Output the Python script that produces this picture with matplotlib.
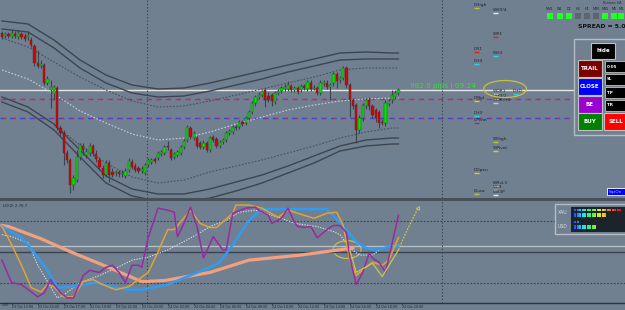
import matplotlib
matplotlib.use("Agg")
import matplotlib.pyplot as plt
from matplotlib.patches import Ellipse, Rectangle
import numpy as np

BG = "#708090"

# ---- M15 candles (price in points) ----
opens = [167, 164, 166, 163, 166, 163, 166, 164, 163, 160,
         154, 137, 134, 135, 117, 110, 106, 112, 72, 67,
         47, 40, 15, 20, 43, 54, 45, 47, 54, 46,
         40, 32, 25, 37, 28, 27, 28, 26, 24, 30,
         38, 34, 32, 29, 27, 35, 38, 41, 42, 46,
         47, 54, 50, 43, 45, 47, 53, 60, 72, 62,
         62, 57, 53, 57, 50, 63, 61, 54, 58, 60,
         67, 68, 73, 73, 78, 77, 82, 88, 97, 103,
         105, 110, 104, 105, 98, 107, 109, 111, 111, 114,
         110, 112, 110, 114, 111, 117, 111, 112, 107, 116,
         117, 113, 117, 126, 120, 122, 132, 115, 100, 95,
         70, 82, 94, 100, 94, 90, 88, 78, 77, 96,
         100, 103, 107]
closes = [163, 166, 164, 167, 164, 167, 163, 161, 165, 155,
          137, 134, 136, 117, 121, 113, 113, 72, 67, 47,
          40, 15, 22, 43, 55, 50, 48, 54, 47, 41,
          33, 25, 37, 25, 25, 28, 26, 27, 29, 39,
          33, 30, 29, 31, 35, 40, 40, 39, 47, 48,
          53, 53, 42, 46, 48, 53, 59, 73, 63, 67,
          54, 53, 57, 50, 62, 60, 54, 58, 60, 67,
          69, 73, 72, 78, 76, 82, 88, 97, 103, 105,
          109, 100, 100, 99, 107, 109, 112, 113, 115, 110,
          112, 108, 114, 112, 118, 111, 112, 107, 117, 118,
          113, 115, 126, 119, 122, 132, 115, 100, 94, 70,
          82, 95, 100, 94, 85, 82, 77, 77, 97, 99,
          105, 107, 110]
highs = [169, 168, 168, 170, 169, 170, 168, 167, 169, 163,
         156, 150, 140, 137, 124, 120, 115, 114, 75, 70,
         50, 42, 25, 50, 57, 57, 52, 57, 56, 50,
         43, 35, 40, 40, 32, 30, 30, 30, 32, 42,
         41, 37, 34, 34, 37, 42, 42, 43, 49, 50,
         55, 59, 52, 48, 50, 55, 61, 75, 74, 69,
         64, 59, 60, 59, 64, 65, 63, 60, 62, 69,
         71, 75, 75, 80, 80, 84, 90, 99, 105, 108,
         110, 112, 108, 107, 109, 111, 114, 116, 119, 116,
         114, 114, 116, 116, 120, 120, 115, 114, 120, 120,
         120, 117, 128, 128, 124, 134, 134, 117, 102, 97,
         85, 97, 102, 103, 96, 92, 90, 81, 100, 101,
         110, 110, 112]
lows = [161, 162, 162, 162, 162, 161, 161, 159, 160, 153,
        134, 132, 132, 115, 115, 92, 100, 70, 64, 35,
        37, 7, 10, 18, 40, 45, 42, 44, 44, 38,
        30, 22, 23, 18, 23, 24, 23, 23, 22, 28,
        31, 28, 27, 27, 25, 33, 36, 37, 40, 44,
        45, 50, 40, 41, 43, 45, 51, 58, 61, 60,
        52, 51, 51, 48, 48, 58, 52, 52, 56, 58,
        65, 66, 70, 71, 74, 75, 80, 86, 94, 101,
        103, 93, 98, 94, 96, 105, 107, 109, 109, 108,
        108, 106, 108, 110, 109, 109, 110, 105, 105, 114,
        111, 100, 114, 112, 117, 120, 112, 83, 91, 57,
        67, 79, 91, 90, 82, 78, 72, 75, 74, 94,
        97, 101, 105]

# ---- envelope bands (sampled every 8 bars) ----
band_idx = [0, 8, 16, 24, 32, 40, 48, 56, 64, 72, 80, 88, 96, 104, 112, 120, 122]
upper_1 = [179, 176, 160, 140, 125, 115, 111, 112, 117, 123, 129, 135, 141, 147, 148, 147, 147]
upper_2 = [171, 168, 152, 132, 117, 107, 103, 104, 109, 115, 121, 128, 134, 140, 141, 141, 141]
upper_mid = [162, 153, 138, 123, 110, 99, 93, 94, 99, 105, 111, 117, 123, 130, 132, 132, 132]
center = [130, 121, 106, 89, 77, 66, 60, 62, 68, 76, 83, 90, 95, 99, 101, 102, 102]
lower_mid = [75, 55, 37, 23, 17, 20, 28, 34, 40, 47, 54, 62, 68, 72, 72]
lower_1 = [103, 93, 76, 50, 24, 11, 6, 6, 11, 18, 25, 34, 44, 54, 60, 62, 62]
lower_2 = [98, 88, 70, 43, 17, 4, -1, -2, 2, 9, 17, 27, 37, 49, 54, 56, 56]

level_white = 110
level_red = 101
level_blue = 82
separators = [44.6, 135.4]

pivot_names = ["DHigh", "WH3/4", "WR1", "DR1", "WH3", "DH4", "WOR1", "DHD", "WH3/2", "WOR/H3",
               "DMid", "DH3", "DPivot", "WHigh", "WPivot", "DOpen", "WRvL3", "WL3", "WR3P", "DLow"]
pivot_levels = [192, 187, 163, 148, 144, 136, 106, 106, 101, 97,
                99, 84, 77, 58, 49, 27, 14, 10, 5, 6]
pivot_x = [145.2, 151.1, 151.1, 145.2, 151.1, 145.2, 151.1, 157.2, 151.1, 151.1,
           145.2, 145.2, 145.2, 151.1, 151.1, 145.2, 151.1, 151.1, 151.1, 145.2]
pivot_colors = ["#b4c832", "#e8e8e8", "#e02020", "#e02020", "#20d8e8", "#20d8e8", "#e8e8e8", "#20d8e8",
                "#c8c8c8", "#c8c8c8", "#e8c820", "#20d8e8", "#a020c8", "#b4c832", "#e8c820", "#e8c820",
                "#c8c8c8", "#c8c8c8", "#e8e8e8", "#b4c832"]

# ---- oscillator panel ----
purple_idx = [0, 2, 3, 6, 9, 11, 13, 15, 16, 18, 20, 22, 25, 27, 30, 32, 34, 36, 38, 40, 42, 43,
              45, 48, 51, 53, 54, 56, 58, 60, 62, 65, 68, 69, 71, 75, 78, 79, 82, 83, 86, 88,
              90, 91, 93, 95, 97, 100, 102, 104, 106, 107, 109, 111, 113, 114, 116, 118, 119, 122]
purple_val = [42, 27, 20, 18, 11, 6, 10, 23, 18, 10, 5, 5, 27, 32, 30, 35, 37, 30, 20, 37, 37, 35,
              64, 93, 91, 89, 65, 78, 94, 75, 44, 65, 52, 52, 88, 93, 94, 91, 86, 78, 83, 93,
              79, 75, 74, 75, 64, 72, 76, 76, 69, 45, 18, 30, 49, 44, 40, 30, 44, 86]
orange_idx = [0, 3, 6, 9, 12, 14, 16, 19, 22, 25, 28, 31, 35, 39, 42, 45, 48, 51, 53, 58, 61, 64,
              66, 71, 72, 76, 80, 85, 88, 91, 96, 100, 103, 105, 107, 109, 112, 114, 117, 119, 122]
orange_val = [75, 57, 37, 15, 11, 18, 16, 6, 6, 21, 23, 18, 13, 16, 23, 30, 50, 72, 72, 91, 78, 74,
              74, 88, 96, 96, 93, 84, 91, 88, 83, 88, 89, 76, 42, 27, 35, 40, 37, 42, 64]
blue_idx = [0, 6, 10, 14, 17, 21, 29, 38, 43, 51, 64, 67, 71, 76, 80, 88, 100, 104, 109, 112, 115, 119, 122]
blue_val = [75, 64, 49, 32, 15, 16, 20, 13, 13, 18, 35, 40, 57, 81, 92, 92, 92, 79, 60, 54, 52, 55, 55]
salmon_idx = [0, 2, 12, 22, 32, 43, 50, 57, 64, 76, 92, 108]
salmon_val = [76, 75, 63, 49, 36, 21, 22, 26, 30, 42, 47, 54]
signal_idx = [0, 3, 8, 11, 14, 17, 19, 24, 30, 35, 40, 45, 51, 57, 61, 64, 69, 73, 78, 86, 90,
              97, 102, 104, 107, 110, 114, 117, 122]
signal_val = [67, 65, 59, 37, 21, 5, 8, 20, 27, 34, 42, 45, 52, 62, 69, 75, 81, 89, 91, 83, 78,
              75, 70, 67, 54, 47, 47, 54, 57]
yellow_idx = [107, 109, 114, 117, 122]
yellow_val = [52, 30, 39, 26, 52]
yellow_proj_idx = [122, 124, 128]
yellow_proj_val = [52, 67, 93]
osc_levels = [80, 20]

time_ticks = [3, 11, 19, 27, 35, 43, 51, 59, 67, 75, 83, 91, 99, 107, 115, 123]
time_labels = ["23 Oct 13:00", "23 Oct 15:00", "23 Oct 17:00", "23 Oct 19:00", "23 Oct 21:00",
               "23 Oct 23:00", "24 Oct 02:00", "24 Oct 04:00", "24 Oct 06:00", "24 Oct 08:00",
               "24 Oct 10:00", "24 Oct 12:00", "24 Oct 14:00", "24 Oct 16:00", "24 Oct 18:00",
               "24 Oct 20:00"]

# strength meter (segments lit)
meter_rows = [19, 13, 2, 9]
meter_pal = ["#1f5cff", "#2088ff", "#20b8ff", "#20e0f0", "#20f0c8", "#30f098", "#40f068", "#60f040",
             "#90f030", "#c0f020", "#e0e820", "#f0d020", "#f0b020", "#f09020", "#f07020", "#f05020",
             "#f03020", "#f02020", "#e01818", "#d00000"]

XL = (-0.615, 191.7)
DARK = "#3a434d"

fig = plt.figure(figsize=(6.25, 3.10), dpi=100, facecolor=BG)

# ---------- main price panel ----------
ax = fig.add_axes([0, 112 / 310, 1, 198 / 310])
ax.set_xlim(*XL)
ax.set_ylim(2, 200)
ax.axis("off")

o = np.array(opens, float)
c = np.array(closes, float)
x = np.arange(len(o))
up = c >= o
ax.vlines(x, lows, highs, color="#3b434c", lw=0.8, zorder=3)
body = np.maximum(np.abs(c - o), 0.8)
ax.bar(x[up], body[up], bottom=o[up], width=0.72, color="#00e400", edgecolor="#33402f", lw=0.3, zorder=4)
ax.bar(x[~up], body[~up], bottom=c[~up], width=0.72, color="#dc0000", edgecolor="#402f2f", lw=0.3, zorder=4)

ax.plot(band_idx, upper_1, color="#3d4650", lw=1.0, zorder=2)
ax.plot(band_idx, upper_2, color="#3d4650", lw=1.0, zorder=2)
ax.plot(band_idx, lower_1, color="#3d4650", lw=1.0, zorder=2)
ax.plot(band_idx, lower_2, color="#3d4650", lw=1.0, zorder=2)
ax.plot(band_idx, upper_mid, color="#47505b", lw=0.8, ls=(0, (1.5, 1.5)), zorder=2)
ax.plot(band_idx[2:], lower_mid, color="#47505b", lw=0.8, ls=(0, (1.5, 1.5)), zorder=2)
ax.plot(band_idx, center, color="#c4ccd4", lw=0.8, ls=(0, (1.5, 1.5)), zorder=2)

ax.axhline(level_white, color="#e6e6e6", lw=1.0, zorder=1)
ax.axhline(level_red, color="#d2285a", lw=1.0, ls=(0, (4, 3)), zorder=1)
ax.axhline(level_red, color="#4050d8", lw=1.0, ls=(4.8, (1.2, 5.8)), zorder=1)
ax.axhline(level_blue, color="#3048e0", lw=1.0, ls=(0, (4, 3)), zorder=1)
ax.axhline(level_blue, color="#d02860", lw=1.0, ls=(4.8, (1.2, 5.8)), zorder=1)
for s in separators:
    ax.axvline(s, color=DARK, lw=0.8, ls=(0, (1.2, 1.8)), zorder=1)

for name, lv, px, col in zip(pivot_names, pivot_levels, pivot_x, pivot_colors):
    ax.hlines(lv, px, px + 1.6, color=col, lw=1.0, zorder=5)
    ax.text(px, lv + 3, name, fontsize=3.2, color="#1f252b", va="center", ha="left", zorder=5)

ax.add_patch(Ellipse((154.8, 111), 13.2, 17, fill=False, ec="#c8c040", lw=0.9, zorder=5))
ax.text(125.5, 114, "982.0 pips | 09:24", fontsize=5.2, color="#36e036", va="center", ha="left", zorder=5)

# ---------- oscillator panel ----------
ax2 = fig.add_axes([0, 7 / 310, 1, 102 / 310])
ax2.set_facecolor(BG)
ax2.set_xlim(*XL)
ax2.set_ylim(0, 100)
for sp in ["top", "left", "right"]:
    ax2.spines[sp].set_visible(False)
ax2.spines["bottom"].set_color("#2f353c")
ax2.spines["bottom"].set_linewidth(1.0)
ax2.set_yticks([])
ax2.set_xticks(time_ticks)
ax2.set_xticklabels(time_labels, ha="left", fontsize=2.3, color="#1e2328")
ax2.tick_params(axis="x", length=1.5, width=0.6, color="#2f353c", pad=0.3)
ax2.text(0.0, 0, "1:00", fontsize=2.3, color="#1e2328", ha="left", va="top",
         transform=ax2.get_xaxis_transform(), clip_on=False)

for lv in osc_levels:
    ax2.axhline(lv, color=DARK, lw=0.8, ls=(0, (1.5, 1.5)))
ax2.axhline(56, color="#b8c0c8", lw=0.9)
ax2.axhline(50, color=DARK, lw=1.0)
for s in separators:
    ax2.axvline(s, color=DARK, lw=0.8, ls=(0, (1.2, 1.8)))

ax2.plot(signal_idx, signal_val, color="#d4dae0", lw=0.8, ls=(0, (1.2, 1.2)))
ax2.plot(salmon_idx, salmon_val, color="#f2a080", lw=2.3)
ax2.plot(blue_idx, blue_val, color="#2f9cf2", lw=1.8)
ax2.plot(orange_idx, orange_val, color="#e2a232", lw=1.1)
ax2.plot(purple_idx, purple_val, color="#9a2aa2", lw=1.1)
ax2.plot(yellow_idx, yellow_val, color="#c8c848", lw=0.9)
ax2.plot(yellow_proj_idx, yellow_proj_val, color="#c8c848", lw=0.9, ls=(0, (1.5, 1)))
ax2.plot(yellow_proj_idx[-1:], yellow_proj_val[-1:], marker=(3, 0, -30), ms=3, color="#c8c848",
         mfc="none", mew=0.7)
ax2.add_patch(Ellipse((106.2, 52.4), 8.6, 17.5, fill=False, ec="#c8c040", lw=0.9))
ax2.text(0.3, 97, "LD(2) 2.76.7", fontsize=2.8, color="#1e2328", va="top", ha="left")

# ---------- terminal widgets (pixel coordinates) ----------
ui = fig.add_axes([0, 0, 1, 1], zorder=10)
ui.set_xlim(0, 625)
ui.set_ylim(310, 0)
ui.axis("off")

ui.add_patch(Rectangle((0, 198), 625, 3, color="#46505a", lw=0))

ui.text(603, 2.5, "Buttons EA", fontsize=2.4, color="#2a3038", va="center")
tf_names = ["MN1", "W1", "D1", "H4", "H1", "M30", "M15", "M5", "M1"]
tf_x = [547, 557, 566, 575, 584, 593, 602, 611, 618]
tf_on = [1, 1, 1, 0, 0, 0, 1, 1, 1]
for n, px, on in zip(tf_names, tf_x, tf_on):
    ui.text(px + 3, 9, n, fontsize=2.4, color="#1e2328", ha="center", va="center")
    ui.add_patch(Rectangle((px, 13), 6, 6, color="#22ff22" if on else "#5d6670", lw=0))
ui.text(578, 27, "SPREAD = 5.0", fontsize=4.4, fontweight="bold", color="#111111", va="center")

ui.add_patch(Rectangle((574, 39), 60, 96, fc=BG, ec="#b4bcc4", lw=1.0))
ui.add_patch(Rectangle((591, 43), 24, 16, fc="#000000", ec="#c0c0c0", lw=0.8))
ui.text(603, 51, "hide", fontsize=4, fontweight="bold", color="white", ha="center", va="center")
buttons = [("TRAIL", 578, 60, "#7a0000"), ("CLOSE", 578, 78, "#0000ff"), ("BE", 578, 96, "#9a00d0"),
           ("BUY", 578, 113, "#008000"), ("SELL", 604, 113, "#ff0000")]
for t, bx, by, col in buttons:
    ui.add_patch(Rectangle((bx, by), 24, 17, fc=col, ec="#c0c0c0", lw=0.8))
    ui.text(bx + 12, by + 8.5, t, fontsize=4, fontweight="bold", color="white", ha="center", va="center")
for t, by in [("0.05", 61), ("SL", 74), ("TP", 87), ("TR", 100)]:
    ui.add_patch(Rectangle((605, by), 22, 11, fc="#000000", ec="#c0c0c0", lw=0.6))
    ui.text(607, by + 5.5, t, fontsize=3, fontweight="bold", color="white", va="center")

ui.add_patch(Rectangle((607, 188), 20, 7, fc="#0000ff", ec="white", lw=0.6))
ui.text(609, 191.5, "SqzOn", fontsize=3, color="#a8b8ff", va="center")

ui.add_patch(Rectangle((555, 204), 72, 30, fc=BG, ec="#b4bcc4", lw=1.0))
ui.text(558, 213, "XAU", fontsize=3.3, color="#d8dde2", va="center")
ui.text(558, 226, "USD", fontsize=3.3, color="#d8dde2", va="center")

meter = fig.add_axes([571 / 625, (310 - 232) / 310, 54 / 625, 25 / 310], zorder=11)
meter.set_facecolor("#1c232b")
meter.set_xlim(-1.2, 20.4)
meter.set_ylim(232, 207)
meter.set_xticks([])
meter.set_yticks([])
for sp in meter.spines.values():
    sp.set_visible(False)
row_y = [210, 215, 222, 227]
row_h = [2, 4, 2, 4]
for ry, rh, n in zip(row_y, row_h, meter_rows):
    seg = np.arange(n)
    meter.barh([ry] * n, [0.8] * n, left=seg, height=rh, color=meter_pal[:n])

fig.savefig("out.png", dpi=100, facecolor=BG)
